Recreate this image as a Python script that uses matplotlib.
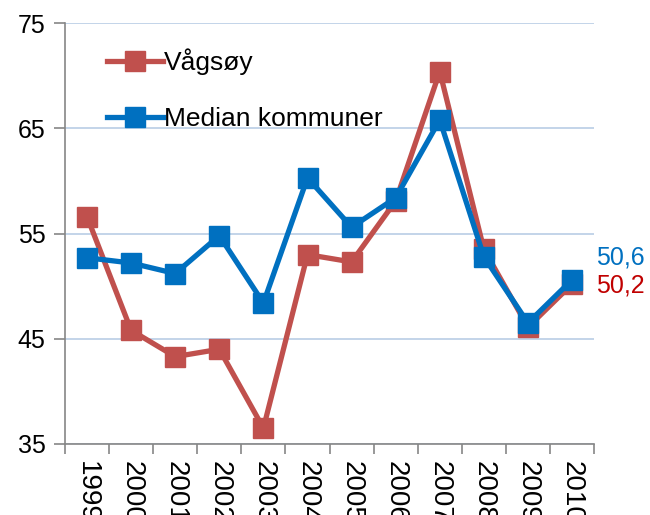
import numpy as np
import matplotlib.pyplot as plt

plt.rcParams['font.family'] = ['Liberation Sans', 'DejaVu Sans']

years = ['1999', '2000', '2001', '2002', '2003', '2004', '2005', '2006',
         '2007', '2008', '2009', '2010']
vagsoy = [56.6, 45.8, 43.3, 44.0, 36.5, 53.0, 52.3, 58.1, 70.4, 53.5, 46.1, 50.2]
median = [52.7, 52.2, 51.2, 54.8, 48.4, 60.3, 55.6, 58.4, 65.8, 52.8, 46.5, 50.6]

red = '#C0504D'
blue = '#0070C0'

fig = plt.figure(figsize=(6.5, 5.15), dpi=100)
ax = fig.add_axes([0.1, 0.138, 0.814, 0.817])

x = np.arange(len(years))
ax.plot(x, vagsoy, color=red, lw=3.8, marker='s', ms=14, label='Vågsøy')
ax.plot(x, median, color=blue, lw=3.8, marker='s', ms=14, label='Median kommuner')

ax.set_ylim(35, 75)
ax.set_xlim(-0.5, len(years) - 0.5)
ax.set_yticks([35, 45, 55, 65, 75])
ax.grid(axis='y', color='#B9CDE5', lw=1.2)
ax.set_axisbelow(True)

# year labels run down the page and are cut by the bottom edge, as in the original
ax.set_xticks(x)
ax.set_xticklabels(years, rotation=270, fontsize=20)
ax.set_xticks(np.arange(len(years) + 1) - 0.5, minor=True)
ax.tick_params(axis='x', which='major', length=0, pad=12)
ax.tick_params(axis='x', which='minor', length=7, color='#868686', width=1.2)
ax.tick_params(axis='y', length=8, color='#868686', width=1.2, labelsize=18, pad=6)

for s in ['top', 'right']:
    ax.spines[s].set_visible(False)
for s in ['left', 'bottom']:
    ax.spines[s].set_color('#868686')
    ax.spines[s].set_linewidth(1.2)

ax.text(len(years) - 0.5 + 0.05, median[-1] + 2.15, '50,6', color=blue,
        fontsize=18, va='center', ha='left', clip_on=False)
ax.text(len(years) - 0.5 + 0.05, vagsoy[-1] - 0.1, '50,2', color='#C00000',
        fontsize=18, va='center', ha='left', clip_on=False)

ax.legend(loc='upper left', bbox_to_anchor=(0.06, 0.965), frameon=False,
          fontsize=19, handlelength=2.1, handletextpad=0.05, labelspacing=1.22,
          borderaxespad=0)

fig.savefig('out.png', dpi=100)
